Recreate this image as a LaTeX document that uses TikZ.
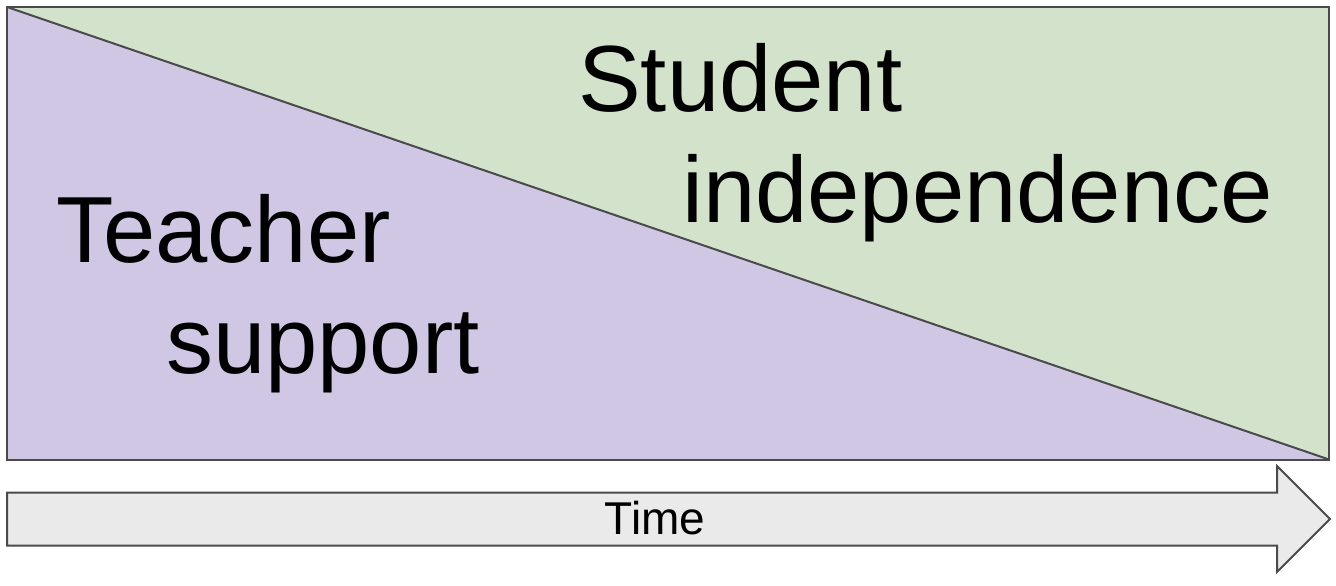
\documentclass[tikz,border=0pt]{standalone}
\usepackage{fontspec}
\setmainfont{Liberation Sans}
\usepackage{tikz}
\usepackage{xcolor}
\usetikzlibrary{positioning,calc}
\definecolor{teach}{RGB}{208,199,229}
\definecolor{stud}{RGB}{211,227,203}
\definecolor{arrowfill}{RGB}{234,234,234}
\definecolor{edgegray}{RGB}{74,74,74}

\begin{document}
\begin{tikzpicture}[x=1pt,y=-1pt,
  edge/.style={draw=edgegray,line width=2pt,line join=miter},
  big/.style={font=\fontsize{94}{111}\selectfont,inner sep=0pt,align=left},
  small/.style={font=\fontsize{46}{55}\selectfont,inner sep=0pt}]
  \useasboundingbox (0,0) rectangle (1336,586);
  % corners of the box
  \coordinate (tl) at (7,7);
  \coordinate (tr) at (1329,7);
  \coordinate (bl) at (7,459.5);
  \coordinate (br) at (1329,459.5);
  \fill[teach] (tl) -- (bl) -- (br) -- cycle;
  \fill[stud] (tl) -- (tr) -- (br) -- cycle;
  \draw[edge] (tl) rectangle (br);
  \draw[edge] (tl) -- (br);
  % time arrow
  \draw[edge,fill=arrowfill] (7,492.5) -- (1277,492.5) -- (1277,466)
    -- (1330,519) -- (1277,572) -- (1277,545.5) -- (7,545.5) -- cycle;
  \node[small] (time) at (655,518.5) {Time};
  % labels (anchored on the baseline of the second line)
  \node[big,anchor=base west] (teacher) at (56,373)
    {Teacher\\\hspace*{110pt}support};
  \node[big,anchor=base west] (student) at (578,222)
    {Student\\\hspace*{104pt}independence};
\end{tikzpicture}
\end{document}
